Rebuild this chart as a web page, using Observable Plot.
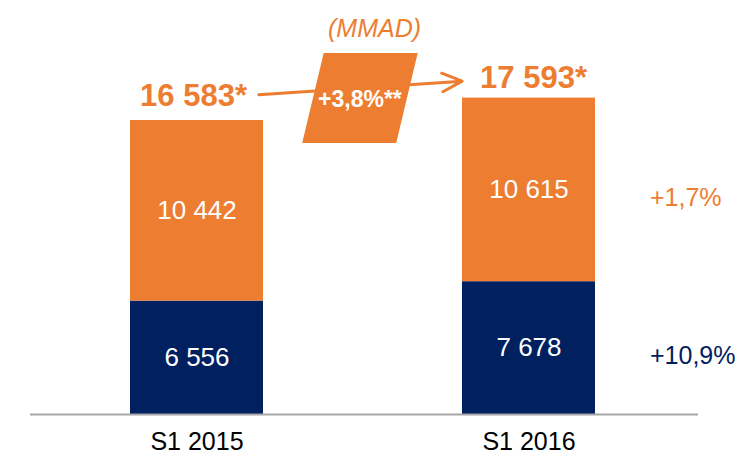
<!DOCTYPE html>
<html>
<head>
<meta charset="utf-8">
<script src="https://cdn.jsdelivr.net/npm/d3@7"></script>
<script src="https://cdn.jsdelivr.net/npm/@observablehq/plot@0.6"></script>
<style>
  html, body { margin: 0; padding: 0; background: #fff; }
</style>
</head>
<body>
<div id="chart"></div>
<script>
// ---- Data ----
const periods = ["S1 2015", "S1 2016"];
const segments = ["Segment 1", "Segment 2"];          // bottom (navy), top (orange)
const segment1Values = [6556, 7678];
const segment2Values = [10442, 10615];
const totalLabels = ["16 583*", "17 593*"];
const growthLabels = ["+10,9%", "+1,7%"];            // growth per segment (S1 2016 vs S1 2015)
const overallGrowth = "+3,8%**";
const unitLabel = "(MMAD)";
const arrowY = [18247, 19531];                        // arrow level (value units) at each period

// ---- Styling ----
const ORANGE = "#ED7D31";
const NAVY = "#002060";
const FONT = "'Liberation Sans', Arial, Helvetica, sans-serif";

const locale = d3.formatLocale({decimal: ",", thousands: " ", grouping: [3], currency: ["", ""]});
const fmt = locale.format(",d");

const rows = periods.flatMap((p, i) => [
  {period: p, segment: segments[0], value: segment1Values[i], growth: growthLabels[0]},
  {period: p, segment: segments[1], value: segment2Values[i], growth: growthLabels[1]}
]);
const totals = periods.map((p, i) => ({period: p, total: segment1Values[i] + segment2Values[i], label: totalLabels[i]}));
const arrowData = [{x1: periods[0], x2: periods[1], y1: arrowY[0], y2: arrowY[1]}];

// Badge (parallelogram) placed at the arrow's midpoint
function badge(index, scales) {
  const bw = scales.x.bandwidth ? scales.x.bandwidth() : 0;
  const xa = scales.x(periods[0]) + bw / 2 + 61.9;
  const xb = scales.x(periods[1]) + bw / 2 - 67.0;
  const cx = (xa + xb) / 2;
  const cy = (scales.y(arrowY[0]) + scales.y(arrowY[1])) / 2 + 10.7;
  const hw = 47, sk = 10.75, hh = 45;
  const g = d3.create("svg:g");
  g.append("path")
    .attr("d", `M${cx + sk - hw},${cy - hh}L${cx + sk + hw},${cy - hh}L${cx - sk + hw},${cy + hh}L${cx - sk - hw},${cy + hh}Z`)
    .attr("fill", ORANGE);
  g.append("text")
    .attr("x", cx).attr("y", cy + 9)
    .attr("text-anchor", "middle")
    .attr("fill", "#fff")
    .attr("font-weight", "bold")
    .attr("font-size", 23)
    .attr("font-family", FONT)
    .text(overallGrowth);
  return g.node();
}

const chart = Plot.plot({
  width: 747,
  height: 456,
  marginTop: 0,
  marginBottom: 42,
  marginLeft: 30,
  marginRight: 49,
  style: {fontFamily: FONT, background: "#fff", overflow: "visible"},
  x: {domain: periods, range: [63.6, 661.2], paddingInner: 0.6, paddingOuter: 0.2, label: null},
  y: {domain: [0, 23936], axis: null},
  color: {domain: segments, range: [NAVY, ORANGE]},
  marks: [
    Plot.barY(rows, {x: "period", y: "value", fill: "segment"}),
    Plot.ruleY([0], {stroke: "#A6A6A6", strokeWidth: 2}),
    Plot.axisX({tickSize: 0, tickPadding: 18, fontSize: 25, color: "#000"}),
    Plot.text(rows, Plot.stackY({
      x: "period", y: "value", z: "segment",
      text: d => fmt(d.value),
      fill: "#fff", fontSize: 26, ariaLabel: "segment values"
    })),
    Plot.text(totals.slice(0, 1), {x: "period", y: "total", text: "label", lineAnchor: "bottom",
      dx: -3.5, dy: -15, fill: ORANGE, fontSize: 31, fontWeight: "bold"}),
    Plot.text(totals.slice(1, 2), {x: "period", y: "total", text: "label", lineAnchor: "bottom",
      dx: 4.5, dy: -10.6, fill: ORANGE, fontSize: 31, fontWeight: "bold"}),
    Plot.text(rows, Plot.stackY({
      x: "period", y: "value", z: "segment", text: "growth",
      filter: d => d.period === periods[1],
      fill: "segment", textAnchor: "start", dx: 121, dy: 8, fontSize: 25
    })),
    Plot.arrow(arrowData, {x1: "x1", x2: "x2", y1: "y1", y2: "y2",
      stroke: ORANGE, strokeWidth: 3, headLength: 11, headAngle: 50,
      insetStart: 61.9, insetEnd: 67.0}),
    badge,
    Plot.text([unitLabel], {frameAnchor: "top", text: d => d, dx: 10, dy: 36, lineAnchor: "bottom",
      fill: ORANGE, fontSize: 25, fontStyle: "italic"})
  ]
});

// Condense some labels horizontally (narrow type as in the original)
function condense(selector, k) {
  chart.querySelectorAll(selector).forEach(t => {
    const tr = t.getAttribute("transform") || "";
    t.setAttribute("transform", tr + ` scale(${k},1)`);
  });
}
condense('g[aria-label="segment values"] text', 0.82);

document.getElementById("chart").appendChild(chart);
</script>
</body>
</html>
